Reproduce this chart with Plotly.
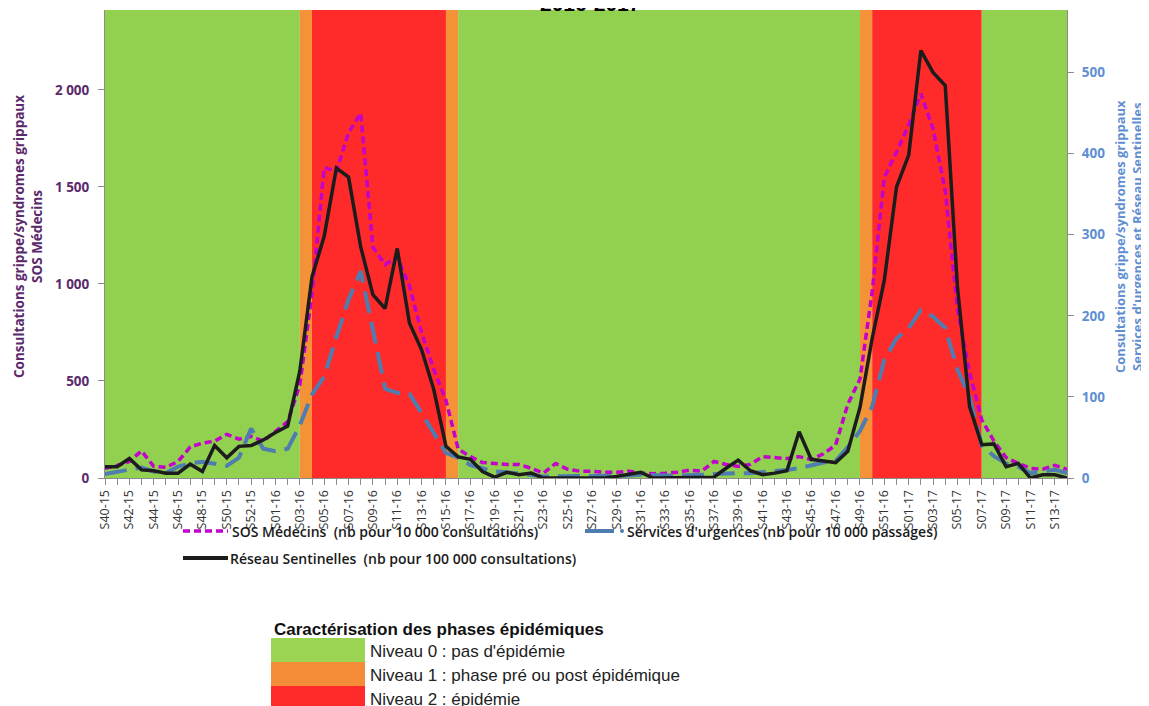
import plotly.graph_objects as go

weeks = [
    "S40-15", "S41-15", "S42-15", "S43-15", "S44-15", "S45-15", "S46-15", "S47-15", "S48-15", "S49-15",
    "S50-15", "S51-15", "S52-15", "S53-15", "S01-16", "S02-16", "S03-16", "S04-16", "S05-16", "S06-16",
    "S07-16", "S08-16", "S09-16", "S10-16", "S11-16", "S12-16", "S13-16", "S14-16", "S15-16", "S16-16",
    "S17-16", "S18-16", "S19-16", "S20-16", "S21-16", "S22-16", "S23-16", "S24-16", "S25-16", "S26-16",
    "S27-16", "S28-16", "S29-16", "S30-16", "S31-16", "S32-16", "S33-16", "S34-16", "S35-16", "S36-16",
    "S37-16", "S38-16", "S39-16", "S40-16", "S41-16", "S42-16", "S43-16", "S44-16", "S45-16", "S46-16",
    "S47-16", "S48-16", "S49-16", "S50-16", "S51-16", "S52-16", "S01-17", "S02-17", "S03-17", "S04-17",
    "S05-17", "S06-17", "S07-17", "S08-17", "S09-17", "S10-17", "S11-17", "S12-17", "S13-17", "S14-17",
]

# SOS Médecins (nb pour 10 000 consultations) - left axis
sos_medecins = [
    50, 65, 85, 140, 60, 55, 85, 160, 180, 190,
    225, 200, 215, 190, 240, 290, 480, 950, 1600, 1580,
    1780, 1880, 1190, 1100, 1140, 990, 750, 560, 400, 150,
    110, 80, 75, 70, 70, 50, 25, 75, 45, 35,
    35, 30, 30, 35, 25, 22, 25, 30, 40, 35,
    85, 70, 60, 70, 110, 103, 100, 110, 95, 125,
    170, 380, 510, 960, 1550, 1680, 1820, 1980, 1800, 1480,
    870, 545, 300, 190, 105, 75, 50, 45, 65, 45,
]

# Services d'urgences (nb pour 10 000 passages) - right axis
services_urgences = [
    5, 8, 11, 13, 8, 6, 14, 18, 20, 18,
    15, 25, 61, 36, 33, 36, 65, 103, 125, 174,
    220, 255, 185, 110, 105, 104, 80, 55, 31, 25,
    16, 12, 8, 7, 5, 4, 2, 2, 2, 2,
    2, 2, 3, 3, 4, 3, 3, 3, 3, 4,
    5, 6, 6, 6, 7, 8, 10, 12, 16, 19,
    21, 38, 58, 88, 146, 172, 185, 207, 199, 185,
    134, 100, 40, 27, 18, 14, 6, 8, 10, 6,
]

# Réseau Sentinelles (nb pour 100 000 consultations) - right axis
reseau_sentinelles = [
    14, 14, 24, 10, 9, 6, 6, 17, 8, 40,
    25, 39, 40, 47, 56, 64, 132, 248, 298, 382,
    371, 285, 226, 209, 283, 191, 158, 109, 39, 26,
    23, 8, 1, 7, 4, 6, 0, 0, 0, 0,
    0, 0, 2, 4, 7, 0, 0, 0, 1, 1,
    1, 12, 22, 9, 4, 6, 9, 57, 23, 21,
    19, 33, 87, 172, 244, 359, 398, 527, 500, 484,
    236, 88, 41, 42, 14, 18, 0, 4, 4, 0,
]

# Epidemic phase level of the band starting at each week (0, 1, 2)
phase_level = [
    0, 0, 0, 0, 0, 0, 0, 0, 0, 0,
    0, 0, 0, 0, 0, 0, 1, 2, 2, 2,
    2, 2, 2, 2, 2, 2, 2, 2, 1, 0,
    0, 0, 0, 0, 0, 0, 0, 0, 0, 0,
    0, 0, 0, 0, 0, 0, 0, 0, 0, 0,
    0, 0, 0, 0, 0, 0, 0, 0, 0, 0,
    0, 0, 1, 2, 2, 2, 2, 2, 2, 2,
    2, 2, 0, 0, 0, 0, 0, 0, 0, 0,
]

phase_labels = [
    "Niveau 0 : pas d'épidémie",
    "Niveau 1 : phase pré ou post épidémique",
    "Niveau 2 : épidémie",
]

left_ticks = [0, 500, 1000, 1500, 2000]
left_ticktext = ["0", "500", "1 000", "1 500", "2 000"]
right_ticks = [0, 100, 200, 300, 400, 500]

phase_colors = ["#92D050", "#F39237", "#FF2B2B"]
legend_colors = ["#9BD452", "#F58D38", "#FF2B2B"]
C_SOS = "#C400CC"
C_SAU = "#4F7DB0"
C_RS = "#1C1C1C"
C_LEFT = "#5A2A6C"
C_RIGHT = "#5F8FD2"

# page layout in pixels (the page body has an 8px margin)
OFF = 8
PAGE_W, PAGE_H = 1149, 706
PL, PR, PT, PB = 105, 1067, 10, 478
W, H = PAGE_W - OFF, PAGE_H - OFF


def pxx(px):
    return (px - PL) / (PR - PL)


def pxy(py):
    return (PB - py) / (PB - PT)


xs = list(range(len(weeks)))
n = len(weeks)

fig = go.Figure()

fig.add_trace(go.Scatter(
    x=xs, y=sos_medecins, mode="lines", yaxis="y",
    name="SOS Médecins (nb pour 10 000 consultations)",
    line=dict(color=C_SOS, width=3.5, dash="7px,4px"),
))
fig.add_trace(go.Scatter(
    x=xs, y=services_urgences, mode="lines", yaxis="y2",
    name="Services d'urgences (nb pour 10 000 passages)",
    line=dict(color=C_SAU, width=4, dash="22px,9px"),
))
fig.add_trace(go.Scatter(
    x=xs, y=reseau_sentinelles, mode="lines", yaxis="y2",
    name="Réseau Sentinelles (nb pour 100 000 consultations)",
    line=dict(color=C_RS, width=3.5),
))

shapes = []
# phase bands from runs of phase_level
start = 0
for i in range(1, n):
    if i == n - 1 or phase_level[i] != phase_level[start]:
        end = i
        shapes.append(dict(
            type="rect", xref="x", yref="paper", x0=start, x1=end, y0=0, y1=1,
            fillcolor=phase_colors[phase_level[start]], line=dict(width=0), layer="below",
        ))
        start = i

annotations = []

# title (partly cut at top like the original)
annotations.append(dict(
    text="<b>2016-2017</b>", xref="paper", yref="paper", x=pxx(590), y=pxy(3),
    xanchor="center", yanchor="middle", showarrow=False,
    font=dict(family="Liberation Sans, Arial", size=21, color="#000000"),
))

# axis titles
annotations.append(dict(
    text="<b>Consultations grippe/syndromes grippaux<br>SOS Médecins</b>",
    xref="paper", yref="paper", x=pxx(28), y=pxy(237), textangle=-90,
    xanchor="center", yanchor="middle", showarrow=False,
    font=dict(family="Open Sans", size=13.5, color=C_LEFT),
))
annotations.append(dict(
    text="<b>Consultations grippe/syndromes grippaux<br>Services d'urgences et Réseau Sentinelles</b>",
    xref="paper", yref="paper", x=pxx(1128), y=pxy(237), textangle=-90,
    xanchor="center", yanchor="middle", showarrow=False,
    font=dict(family="Open Sans", size=13, color=C_RIGHT),
))

# custom series legend
leg_font = dict(family="Open Sans", size=14, color="#1A1A1A", weight=600)
shapes.append(dict(type="line", xref="paper", yref="paper",
                   x0=pxx(183), x1=pxx(228), y0=pxy(531), y1=pxy(531),
                   line=dict(color=C_SOS, width=3.5, dash="7px,4px")))
annotations.append(dict(text="SOS Médecins  (nb pour 10 000 consultations)", xref="paper", yref="paper",
                        x=pxx(230), y=pxy(531), xanchor="left", yanchor="middle",
                        showarrow=False, font=leg_font))
shapes.append(dict(type="line", xref="paper", yref="paper",
                   x0=pxx(585), x1=pxx(614), y0=pxy(531), y1=pxy(531),
                   line=dict(color=C_SAU, width=4)))
shapes.append(dict(type="circle", xref="paper", yref="paper",
                   x0=pxx(620), x1=pxx(624), y0=pxy(533), y1=pxy(529),
                   fillcolor=C_SAU, line=dict(width=0)))
annotations.append(dict(text="Services d'urgences (nb pour 10 000 passages)", xref="paper", yref="paper",
                        x=pxx(625), y=pxy(531), xanchor="left", yanchor="middle",
                        showarrow=False, font=leg_font))
shapes.append(dict(type="line", xref="paper", yref="paper",
                   x0=pxx(183), x1=pxx(228), y0=pxy(558), y1=pxy(558),
                   line=dict(color=C_RS, width=4)))
annotations.append(dict(text="Réseau Sentinelles  (nb pour 100 000 consultations)", xref="paper", yref="paper",
                        x=pxx(228), y=pxy(558), xanchor="left", yanchor="middle",
                        showarrow=False, font=leg_font))

# phase legend
annotations.append(dict(text="<b>Caractérisation des phases épidémiques</b>", xref="paper", yref="paper",
                        x=pxx(272), y=pxy(629), xanchor="left", yanchor="middle", showarrow=False,
                        font=dict(family="Liberation Sans, Arial", size=17, color="#111111")))
row_tops = [638, 662, 686]
for k, lab in enumerate(phase_labels):
    shapes.append(dict(type="rect", xref="paper", yref="paper",
                       x0=pxx(271), x1=pxx(365), y0=pxy(row_tops[k]), y1=pxy(row_tops[k] + 24),
                       fillcolor=legend_colors[k], line=dict(width=0)))
    annotations.append(dict(text=lab, xref="paper", yref="paper",
                            x=pxx(368), y=pxy(row_tops[k] + 13), xanchor="left", yanchor="middle",
                            showarrow=False,
                            font=dict(family="Liberation Sans, Arial", size=17, color="#222222")))

ticktext = [w if i % 2 == 0 else "" for i, w in enumerate(weeks)]

fig.update_layout(
    width=W, height=H, autosize=False,
    margin=dict(l=PL - OFF, r=PAGE_W - PR, t=PT - OFF, b=PAGE_H - PB, pad=0),
    paper_bgcolor="white", plot_bgcolor="white",
    showlegend=False,
    shapes=shapes, annotations=annotations,
    xaxis=dict(
        range=[0, n - 1], tickmode="array", tickvals=xs, ticktext=ticktext,
        tickangle=-90, ticks="outside", ticklen=6, tickcolor="#8C8C8C", tickwidth=1,
        showline=True, linecolor="#8C8C8C", linewidth=1, mirror=False,
        showgrid=False, zeroline=False,
        tickfont=dict(family="Open Sans", size=12.5, color="#333333"),
    ),
    yaxis=dict(
        range=[0, 2412], tickmode="array", tickvals=left_ticks, ticktext=left_ticktext,
        ticks="outside", ticklen=6, tickcolor="#8C8C8C", showline=True, linecolor="#8C8C8C",
        showgrid=False, zeroline=False, ticklabelstandoff=6,
        tickfont=dict(family="Open Sans", size=13.5, color=C_LEFT, weight="bold"),
    ),
    yaxis2=dict(
        range=[0, 577], overlaying="y", side="right", tickmode="array", tickvals=right_ticks,
        ticks="outside", ticklen=6, tickcolor="#8C8C8C", showline=True, linecolor="#8C8C8C",
        showgrid=False, zeroline=False, ticklabelstandoff=5,
        tickfont=dict(family="Open Sans", size=13.5, color=C_RIGHT, weight="bold"),
    ),
)

fig.write_html("out.html")
